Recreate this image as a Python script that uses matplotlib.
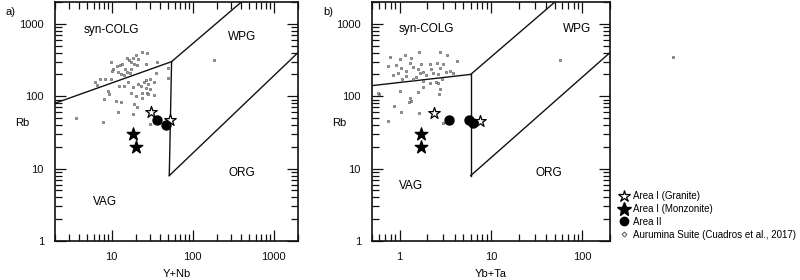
import matplotlib

matplotlib.use("Agg")
import matplotlib.pyplot as plt
from matplotlib.lines import Line2D
from matplotlib.ticker import FixedLocator, LogLocator, NullFormatter

plt.rcParams["font.family"] = ["Liberation Sans", "DejaVu Sans"]

# ---------------------------------------------------------------------------
# Data (Pearce et al. 1984 discrimination diagrams)
# ---------------------------------------------------------------------------

# Panel a: Rb vs Y+Nb
ynb_aurumina = [9.7, 10.5, 10.2, 11.8, 12.7, 13.6, 12.1, 12.9, 14.5, 15.7,
                16.4, 18.4, 20.2, 21.4, 24.0, 27.7, 17.2, 18.9, 20.8, 17.2,
                15.7, 16.7, 14.2, 26.9, 36.8, 7.1, 8.4, 9.9, 6.3, 6.6,
                9.0, 8.0, 11.2, 13.1, 14.4, 16.1, 18.4, 21.4, 25.2, 28.5,
                26.9, 29.6, 33.5, 29.6, 27.7, 28.5, 23.6, 20.2, 24.0, 17.2,
                18.9, 20.4, 12.1, 18.4, 3.6, 7.8, 35.2, 49.0, 49.0, 29.6,
                26.4, 22.9, 12.3, 9.3, 33.5, 186.0]
rb_aurumina_a = [300, 240, 220, 260, 268, 276, 217, 205, 236, 334,
                 317, 338, 368, 324, 408, 392, 298, 276, 268, 236,
                 217, 212, 195, 276, 298, 175, 175, 171, 155, 142,
                 118, 91, 86, 82, 139, 155, 132, 146, 158, 146,
                 168, 171, 155, 125, 112, 107, 110, 101, 93, 112,
                 78, 70, 60, 56, 50, 44, 212, 248, 181, 41,
                 128, 139, 139, 107, 103, 314]

ynb_granite = [30.5, 53.0]
rb_granite_a = [61, 47]
ynb_monzonite = [18.6, 19.9]
rb_monzonite_a = [30, 19.6]
ynb_area2 = [36.0, 46.8]
rb_area2_a = [47, 40]

# Panel b: Rb vs Yb+Ta
ybta_aurumina = [0.78, 1.0, 1.14, 1.35, 1.63, 2.76, 3.27, 4.29, 0.74, 0.92,
                 1.04, 1.29, 1.40, 1.18, 1.59, 1.73, 2.14, 2.23, 2.54, 2.76,
                 2.95, 3.56, 3.21, 2.33, 1.81, 1.66, 0.96, 0.84, 1.18, 1.53,
                 1.97, 2.65, 1.40, 1.07, 2.65, 2.49, 2.14, 2.76, 2.71, 1.81,
                 1.59, 1.29, 1.35, 1.27, 1.02, 0.60, 0.58, 0.88, 1.04, 1.63,
                 3.0, 0.74, 3.87, 2.88, 1.81, 56.6, 975.0]
rb_aurumina_b = [352, 331, 368, 341, 409, 409, 368, 307, 262, 268,
                 249, 285, 257, 223, 236, 276, 276, 241, 285, 249,
                 276, 223, 217, 212, 217, 207, 212, 195, 191, 187,
                 195, 201, 175, 175, 154, 158, 151, 125, 107, 132,
                 115, 93, 86, 84, 118, 107, 110, 74, 61, 58,
                 42, 46, 212, 172, 163, 316, 345]

ybta_granite = [2.39, 7.6]
rb_granite_b = [58, 46]
ybta_monzonite = [1.70, 1.70]
rb_monzonite_b = [30, 20]
ybta_area2 = [3.5, 5.8, 6.3]
rb_area2_b = [47, 46.6, 42]

# Field boundaries (Pearce et al., 1984)
bounds_a = [
    ([2, 55], [80, 300]),
    ([55, 400], [300, 2000]),
    ([55, 51.5], [300, 8]),
    ([51.5, 2000], [8, 400]),
]
bounds_b = [
    ([0.5, 6], [140, 200]),
    ([6, 50], [200, 2000]),
    ([6, 6], [200, 8]),
    ([6, 200], [8, 400]),
]

fields_a = [("syn-COLG", 10, 820), ("WPG", 410, 665), ("ORG", 410, 8.6), ("VAG", 8.2, 3.5)]
fields_b = [("syn-COLG", 1.97, 840), ("WPG", 87, 840), ("ORG", 43, 8.6), ("VAG", 1.35, 5.8)]

legend_labels = ["Area I (Granite)", "Area I (Monzonite)", "Area II",
                 "Aurumina Suite (Cuadros et al., 2017)"]

LINE = "#111111"
DOT_EDGE = "#555555"

fig = plt.figure(figsize=(8, 2.8), dpi=100)
ax_a = fig.add_axes([55 / 800, 39 / 280, 243 / 800, 239 / 280])
ax_b = fig.add_axes([372 / 800, 39 / 280, 238 / 800, 239 / 280])


def style_axes(ax, xlim, xmajor, xlabel, width_px):
    ax.set_xscale("log")
    ax.set_yscale("log")
    ax.set_xlim(*xlim)
    ax.set_ylim(1, 2000)
    ax.xaxis.set_major_locator(FixedLocator(xmajor))
    ax.xaxis.set_minor_locator(LogLocator(base=10, subs=range(2, 10)))
    ax.yaxis.set_major_locator(FixedLocator([1, 10, 100, 1000]))
    ax.yaxis.set_minor_locator(LogLocator(base=10, subs=range(2, 10)))
    ax.set_xticklabels([f"{v:g}" for v in xmajor])
    ax.set_yticklabels(["1", "10", "100", "1000"])
    ax.xaxis.set_minor_formatter(NullFormatter())
    ax.yaxis.set_minor_formatter(NullFormatter())
    ax.tick_params(which="both", direction="in", top=True, right=True,
                   labelsize=8, width=0.9, colors=LINE, pad=8)
    ax.tick_params(which="major", length=8)
    ax.tick_params(which="minor", length=5)
    for sp in ax.spines.values():
        sp.set_linewidth(1.2)
        sp.set_color(LINE)
    ax.set_xlabel(xlabel, fontsize=8, labelpad=5)
    ax.set_ylabel("Rb", fontsize=8, rotation=0, ha="center", va="center")
    ax.yaxis.set_label_coords(-33 / width_px, 0.495)


def draw_panel(ax, bounds, fields, xa, ya, xg, yg, xm, ym, x2, y2):
    for xs, ys in bounds:
        ax.plot(xs, ys, color=LINE, lw=1.0)
    for name, x, y in fields:
        ax.text(x, y, name, fontsize=8.5, ha="center", va="center")
    ax.scatter(xa, ya, s=3, marker="o", facecolor="#aaaaaa", edgecolor="#444444",
               linewidths=0.4, zorder=3, clip_on=False)
    ax.scatter(xg, yg, s=75, marker="*", facecolor="white", edgecolor="black",
               linewidths=0.9, zorder=4)
    ax.scatter(xm, ym, s=90, marker="*", color="black", zorder=4)
    ax.scatter(x2, y2, s=42, marker="o", color="black", zorder=4)


style_axes(ax_a, (2, 2000), [10, 100, 1000], "Y+Nb", 243)
style_axes(ax_b, (0.5, 200), [1, 10, 100], "Yb+Ta", 238)

draw_panel(ax_a, bounds_a, fields_a, ynb_aurumina, rb_aurumina_a,
           ynb_granite, rb_granite_a, ynb_monzonite, rb_monzonite_a,
           ynb_area2, rb_area2_a)
draw_panel(ax_b, bounds_b, fields_b, ybta_aurumina, rb_aurumina_b,
           ybta_granite, rb_granite_b, ybta_monzonite, rb_monzonite_b,
           ybta_area2, rb_area2_b)

fig.text(5 / 800, 1 - 12 / 280, "a)", fontsize=8, va="center")
fig.text(323 / 800, 1 - 12 / 280, "b)", fontsize=8, va="center")

handles = [
    Line2D([], [], ls="", marker="*", ms=9, mfc="white", mec="black", mew=0.9),
    Line2D([], [], ls="", marker="*", ms=10, color="black"),
    Line2D([], [], ls="", marker="o", ms=6, color="black"),
    Line2D([], [], ls="", marker="D", ms=2.5, mfc="white", mec=DOT_EDGE, mew=0.7),
]
fig.legend(handles, legend_labels, loc="upper left",
           bbox_to_anchor=(619 / 800, 1 - 191 / 280), frameon=False,
           fontsize=7, handlelength=1.0, handletextpad=0.4,
           labelspacing=0.3, borderpad=0, borderaxespad=0)

fig.savefig("out.png", dpi=100, facecolor="white")
